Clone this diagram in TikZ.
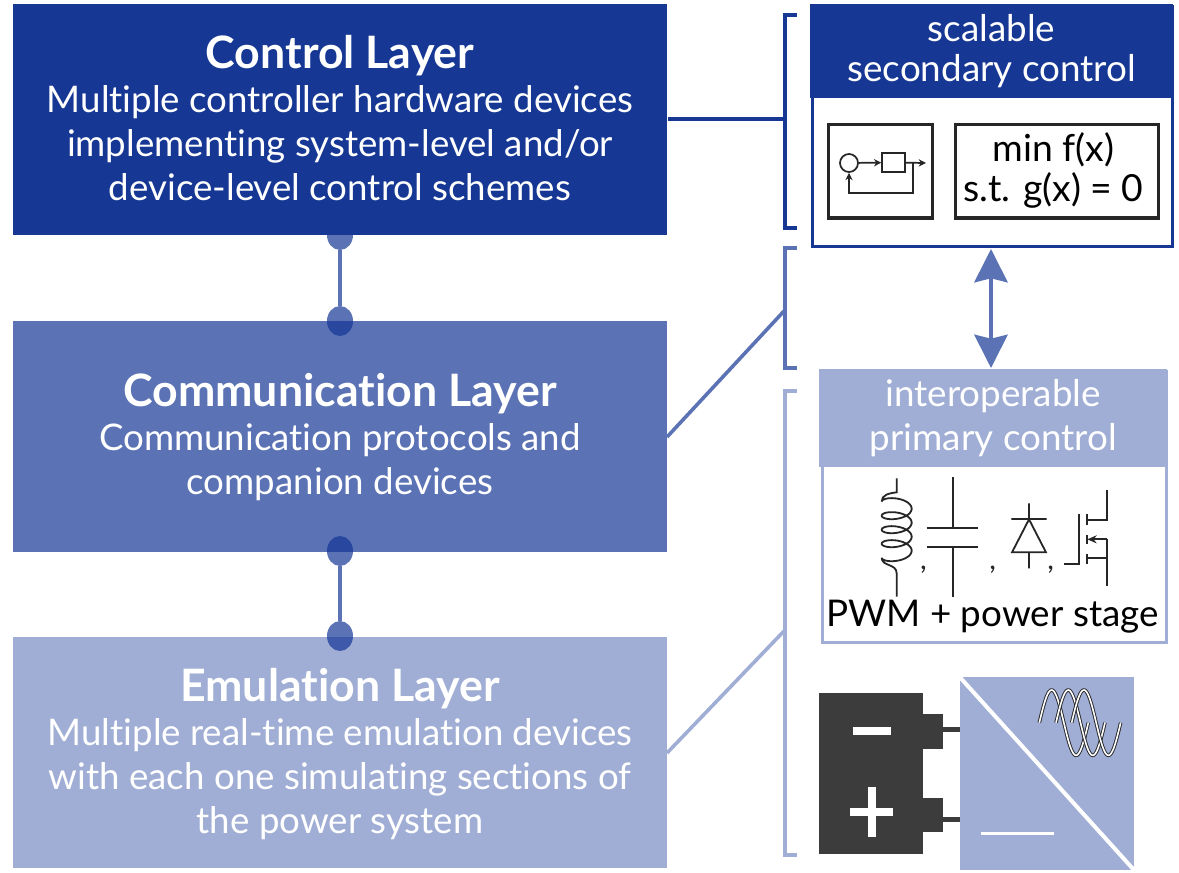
\documentclass[tikz,border=0pt]{standalone}
\usepackage{fontspec}
\setmainfont{Lato}[Ligatures=NoCommon]
\usetikzlibrary{arrows.meta,shapes.geometric}
\definecolor{cdark}{HTML}{163894}
\definecolor{cmid}{HTML}{5B73B5}
\definecolor{clight}{HTML}{A0AED5}
\definecolor{cover}{HTML}{2A47A0}
\definecolor{cover2}{HTML}{3E58AA}
\definecolor{cink}{HTML}{3C3C3C}
\definecolor{ccirc}{HTML}{262626}
\tikzset{
  layerbox/.style={draw=none,fill=#1,minimum width=490.5pt,minimum height=173pt,inner sep=0pt,anchor=north west},
  layertext/.style={text=white,inner sep=0pt,align=center,font=\fontsize{27.5}{33}\selectfont},
  joint/.style={ellipse,fill=cmid,minimum width=19.5pt,minimum height=22.5pt,inner sep=0pt},
  link/.style={line width=2.8pt,cmid},
  hook/.style={line width=2.7pt,#1},
  headbox/.style={fill=#1,text=white,anchor=north west,inner sep=0pt,align=center,font=\fontsize{27.6}{30}\selectfont},
  panel/.style={draw=#1,line width=2.6pt,fill=white,anchor=north west,inner sep=0pt},
  thinbox/.style={draw=ccirc,line width=2.6pt,fill=white,anchor=north west,inner sep=0pt},
  optlabel/.style={inner sep=0pt,align=center,font=\fontsize{28}{30}\selectfont,text=black},
  sym/.style={line width=1.35pt,ccirc},
  sig/.style={line width=1.3pt,ccirc,-{Stealth[length=5.5pt,width=5.5pt]}},
  bigarrow/.style={line width=2.7pt,cmid,{Stealth[length=25pt,width=25pt,inset=3pt]}-{Stealth[length=25pt,width=25pt,inset=3pt]}}
}
\newcommand{\lttl}[1]{{\fontsize{33.5}{36}\selectfont\bfseries #1}\\[0pt]}
\begin{document}
\begin{tikzpicture}[x=0.75pt,y=-0.75pt]
\useasboundingbox (0,0) rectangle (1179,872);
% joints and links under the boxes
\node[joint] (ja) at (340,235) {};
\node[joint] (jb) at (340,321) {};
\node[joint] (jc) at (340,551) {};
\node[joint] (jd) at (340,636) {};
\draw[link] (ja) -- (jb);
\draw[link] (jc) -- (jd);
% layers
\node[layerbox=cdark] (control) at (13,4) {};
\node[layerbox=cmid] (comm) at (13,321) {};
\node[layerbox=clight] (emu) at (13,637) {};
\node[layertext] (controltext) at (340,118) {\lttl{Control Layer}Multiple controller hardware devices\\implementing system-level and/or\\device-level control schemes};
\node[layertext] (commtext) at (340,437.5) {\lttl{Communication Layer}Communication protocols and\\companion devices};
\node[layertext] (emutext) at (340,754) {\lttl{Emulation Layer}Multiple real-time emulation devices\\with each one simulating sections of\\the power system};
% overlaps of joints on boxes
\begin{scope}
\clip (13,321) rectangle (667,551);
\fill[cover] (340,321) ellipse (13 and 15);
\fill[cover] (340,551) ellipse (13 and 15);
\end{scope}
\begin{scope}
\clip (13,637) rectangle (667,868);
\fill[cover2] (340,636) ellipse (13 and 15);
\end{scope}
% brackets
\coordinate (b1t) at (797,15); \coordinate (b1m) at (785,119); \coordinate (b1b) at (797,228);
\draw[hook=cdark] (b1t) -| (b1m) |- (b1b);
\draw[hook=cdark] (control.east |- b1m) -- (b1m);
\coordinate (b2t) at (797,248); \coordinate (b2m) at (785,310); \coordinate (b2b) at (797,368);
\draw[hook=cmid] (b2t) -| (b2m) |- (b2b);
\coordinate (c2) at (667,437);
\draw[hook=cmid] (c2) -- (b2m);
\coordinate (b3t) at (797,391); \coordinate (b3m) at (785,630); \coordinate (b3b) at (797,855);
\draw[hook=clight] (b3t) -| (b3m) |- (b3b);
\coordinate (c3) at (667,753);
\draw[hook=clight] (c3) -- (b3m);
% scalable secondary control
\node[panel=cdark,minimum width=270pt,minimum height=180pt] (sec) at (811,5) {};
\node[headbox=cdark,minimum width=272pt,minimum height=70.5pt] (sechead) at (810,4) {scalable\\secondary control};
\node[thinbox,minimum width=78pt,minimum height=70pt] (loopbox) at (827,123) {};
\node[thinbox,minimum width=152pt,minimum height=70pt] (optbox) at (954,123) {};
\node[optlabel] (opttext) at (1053.5,170) {min f(x)\\s.t. g(x) = 0};
\node[circle,draw=ccirc,line width=1.3pt,minimum size=13.5pt,inner sep=0pt] (sum) at (849,163) {};
\node[draw=ccirc,line width=1.3pt,minimum width=17pt,minimum height=14pt,inner sep=0pt] (plant) at (893.5,162.5) {};
\coordinate (outp) at (926,163);
\coordinate (fb) at (913,193);
\draw[sig] (sum) -- (plant);
\draw[sig] (plant) -- (outp);
\draw[sig] (fb |- outp) -- (fb) -| (sum);
% primary control
\node[panel=clight,minimum width=258pt,minimum height=203pt] (pri) at (820.5,370) {};
\node[headbox=clight,minimum width=261pt,minimum height=73.5pt,font=\fontsize{27.6}{33}\selectfont] (prihead) at (819,369) {interoperable\\primary control};
\coordinate (ab) at (991,249);
\coordinate (ac) at (991,368);
\draw[bigarrow] (ab) -- (ac);
% power stage symbols
\begin{scope}[shift={(810,460)},x=0.25pt,y=-0.25pt]
\draw[sym] (260,55) -- (260,97) .. controls (235,100) and (215,105) .. (215,125)
  -- plot[domain=0:1440,samples=160,smooth] ({260-45*cos(\x)},{125+\x/360*42-20*sin(\x)})
  .. controls (215,320) and (260,310) .. (260,340) -- (260,410);
\draw[sym] (428,52) -- (428,203) (350,203) -- (503,203) (350,262) -- (503,262) (428,262) -- (428,412);
\draw[sym,line join=miter] (657,130) -- (657,178) (604,177) -- (710,177) (657,178) -- (606,277) -- (708,277) -- cycle (657,277) -- (657,325);
\draw[sym] (762,313) -- (807,313) -- (807,163);
\draw[sym] (830,163) -- (830,195) (830,225) -- (830,252) (830,283) -- (830,313);
\draw[sym] (830,180) -- (890,180) -- (890,90);
\draw[sym] (830,295) -- (890,295) -- (890,378) (890,295) -- (890,238);
\draw[sym,-{Stealth[length=7pt,width=6pt]}] (890,238) -- (832,238);
\node[font=\fontsize{22}{22}\selectfont,text=ccirc,inner sep=0pt] (k1) at (340,330) {,};
\node[font=\fontsize{22}{22}\selectfont,text=ccirc,inner sep=0pt] (k2) at (548,330) {,};
\node[font=\fontsize{22}{22}\selectfont,text=ccirc,inner sep=0pt] (k3) at (722,330) {,};
\end{scope}
\node[font=\fontsize{27.6}{30}\selectfont,text=black,inner sep=0pt] (pwm) at (992.5,617) {PWM + power stage};
% battery and converter
\begin{scope}[shift={(810,670)},x=0.25pt,y=-0.25pt]
\fill[cink] (28,70) rectangle (340,553);
\fill[cink] (340,133) rectangle (400,236);
\fill[cink] (340,383) rectangle (400,486);
\fill[cink] (400,170) rectangle (450,185);
\fill[cink] (400,442) rectangle (450,457);
\fill[white] (128,171) rectangle (242,195);
\fill[white] (120,414) rectangle (250,437);
\fill[white] (174,352) rectangle (197,500);
\fill[clight] (450,22) rectangle (972,600);
\draw[white,line width=3pt] (450,22) -- (972,600);
\fill[white] (512,485) rectangle (731,496);
\foreach \xo in {688,738,785}{
  \draw[ccirc,line width=2.6pt] plot[domain=0:360,samples=60,smooth] ({\xo+\x/360*147},{158-98*sin(\x)});
  \draw[white,line width=1.2pt] plot[domain=0:360,samples=60,smooth] ({\xo+\x/360*147},{158-98*sin(\x)});
}
\end{scope}
\end{tikzpicture}
\end{document}
